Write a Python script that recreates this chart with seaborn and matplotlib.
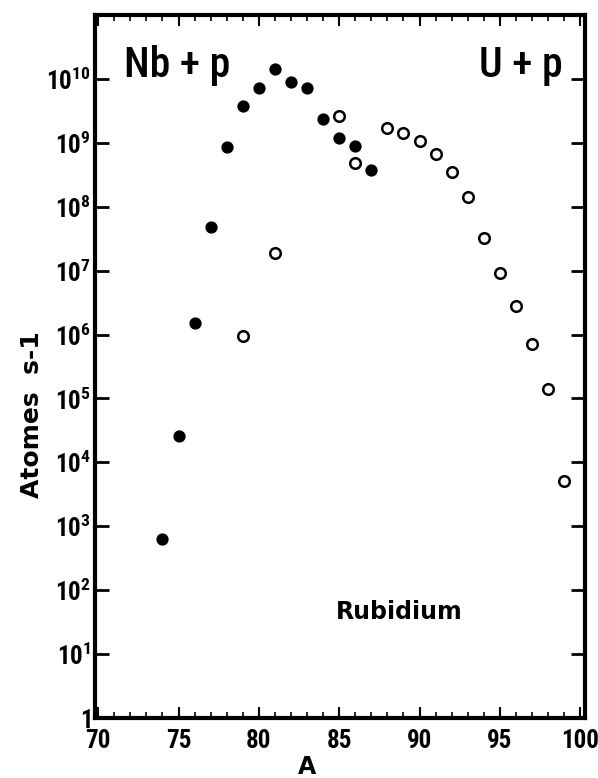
import numpy as np
import pandas as pd
import matplotlib
matplotlib.use("Agg")
import matplotlib.pyplot as plt
import seaborn as sns
from matplotlib.ticker import FixedLocator, MultipleLocator, FixedFormatter

# Data
nb_A = [74, 75, 76, 77, 78, 79, 80, 81, 82, 83, 84, 85, 86, 87]
nb_val = [6.3e2, 2.6e4, 1.5e6, 4.9e7, 8.7e8, 3.8e9, 7.3e9, 1.45e10, 8.8e9, 7.3e9,
          2.4e9, 1.18e9, 9.0e8, 3.8e8]
u_A = [79, 81, 85, 86, 88, 89, 90, 91, 92, 93, 94, 95, 96, 97, 98, 99]
u_val = [9.5e5, 1.9e7, 2.6e9, 4.8e8, 1.73e9, 1.44e9, 1.07e9, 6.8e8, 3.5e8, 1.4e8,
         3.2e7, 9.1e6, 2.8e6, 7.1e5, 1.42e5, 5.2e3]
y_ticks = [1, 1e1, 1e2, 1e3, 1e4, 1e5, 1e6, 1e7, 1e8, 1e9, 1e10]
y_labels = ["$1$", "$10^{1}$", "$10^{2}$", "$10^{3}$", "$10^{4}$", "$10^{5}$",
            "$10^{6}$", "$10^{7}$", "$10^{8}$", "$10^{9}$", "$10^{10}$"]
x_ticks = [70, 75, 80, 85, 90, 95, 100]

sns.set_theme(style="ticks")
plt.rcParams['font.family'] = ['Roboto Condensed', 'DejaVu Sans']
plt.rcParams['mathtext.fontset'] = 'custom'
plt.rcParams['mathtext.rm'] = 'Roboto Condensed:bold'
plt.rcParams['mathtext.it'] = 'Roboto Condensed:bold'
plt.rcParams['mathtext.bf'] = 'Roboto Condensed:bold'
plt.rcParams['mathtext.default'] = 'rm'
plt.rcParams['text.color'] = 'black'
plt.rcParams['xtick.color'] = 'black'
plt.rcParams['ytick.color'] = 'black'
plt.rcParams['xtick.labelcolor'] = 'black'
plt.rcParams['ytick.labelcolor'] = 'black'

fig = plt.figure(figsize=(5.98, 7.78), dpi=100)
ax = fig.add_axes([95/598, 1-718/778, (585-95)/598, (718-15)/778])

df_nb = pd.DataFrame({"A": nb_A, "v": nb_val})
df_u = pd.DataFrame({"A": u_A, "v": u_val})
sns.scatterplot(data=df_nb, x="A", y="v", ax=ax, color="black", s=78,
                edgecolor="black", linewidth=0, zorder=3)
sns.scatterplot(data=df_u, x="A", y="v", ax=ax, facecolor="white", s=58,
                edgecolor="black", linewidth=1.8, zorder=3)

ax.set_yscale("log")
ax.set_xlim(69.8, 100.3)
ax.set_ylim(1, 1e11)
ax.yaxis.set_major_locator(FixedLocator(y_ticks))
ax.yaxis.set_major_formatter(FixedFormatter(y_labels))
ax.yaxis.set_minor_locator(FixedLocator([]))
ax.xaxis.set_major_locator(FixedLocator(x_ticks))
ax.xaxis.set_minor_locator(MultipleLocator(1))
ax.set_xticklabels([str(t) for t in x_ticks])

for s in ax.spines.values():
    s.set_linewidth(3)
    s.set_color("black")

ax.tick_params(axis="both", which="major", direction="in", length=8, width=1.5,
               top=True, right=True, color="black", pad=6)
ax.tick_params(axis="x", which="minor", direction="in", length=4, width=1.2,
               top=True, bottom=True, color="black")
ax.tick_params(axis="y", which="major", direction="in", length=10, width=2,
               labelsize=18, pad=3)
ax.tick_params(axis="x", which="major", labelsize=18, pad=8)
for lab in ax.get_xticklabels():
    lab.set_fontweight("bold")
    lab.set_family("Roboto Condensed")

ax.set_xlabel("")
ax.set_ylabel("")

ax.text(0.06, 0.957, "Nb + p", transform=ax.transAxes, fontsize=30,
        fontweight="medium", ha="left", va="top", family="Roboto Condensed")
ax.text(0.955, 0.957, "U + p", transform=ax.transAxes, fontsize=30,
        fontweight="medium", ha="right", va="top", family="Roboto Condensed")
ax.text(399/598, 1-612/778, "Rubidium", transform=fig.transFigure, fontsize=17,
        fontweight="bold", ha="center", va="center", family="DejaVu Sans")

fig.text(32/598, 1-415/778, "Atomes  s-1", rotation=90, fontsize=18,
         fontweight="bold", ha="center", va="center", family="DejaVu Sans")
fig.text(307/598, 1-767/778, "A", fontsize=17, fontweight="bold",
         ha="center", va="center", family="DejaVu Sans")

fig.savefig("out.png", dpi=100)
